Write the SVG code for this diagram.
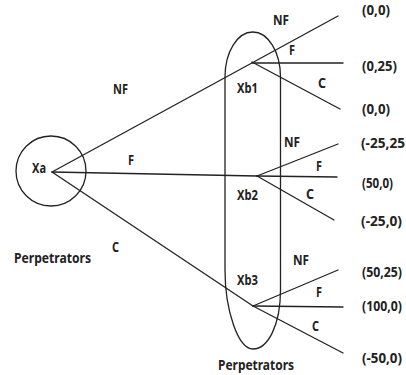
<svg xmlns="http://www.w3.org/2000/svg" width="406" height="375" viewBox="0 0 406 375">
<style>
  .ln{stroke:#222;stroke-width:1.3;fill:none;stroke-linecap:round}
  .t{font-family:'Noto Sans','DejaVu Sans Condensed',sans-serif;font-stretch:condensed;font-weight:bold;font-size:15px;fill:#222}
  .s{font-size:13.6px}
</style>
<rect width="406" height="375" fill="#fff"/>
<g id="connectors">
  <line class="ln" x1="52" y1="172" x2="338" y2="16"/>
  <line class="ln" x1="52" y1="172" x2="257" y2="176"/>
  <line class="ln" x1="52" y1="172" x2="253" y2="306"/>
  <line class="ln" x1="252" y1="63" x2="343" y2="63"/>
  <line class="ln" x1="252" y1="62" x2="340" y2="109"/>
  <line class="ln" x1="257" y1="176" x2="338" y2="144"/>
  <line class="ln" x1="257" y1="176" x2="337" y2="177"/>
  <line class="ln" x1="257" y1="176" x2="334" y2="220"/>
  <line class="ln" x1="253" y1="306" x2="338" y2="270"/>
  <line class="ln" x1="253" y1="306" x2="343" y2="307"/>
  <line class="ln" x1="253" y1="306" x2="343" y2="353"/>
</g>
<g id="edge-labels">
  <text class="t" x="113" y="94" textLength="15" lengthAdjust="spacingAndGlyphs">NF</text>
  <text class="t" x="128" y="165" textLength="6" lengthAdjust="spacingAndGlyphs">F</text>
  <text class="t" x="112" y="252" textLength="7" lengthAdjust="spacingAndGlyphs">C</text>
  <text class="t" x="273" y="25" textLength="16" lengthAdjust="spacingAndGlyphs">NF</text>
  <text class="t" x="289" y="55" textLength="6" lengthAdjust="spacingAndGlyphs">F</text>
  <text class="t" x="318" y="88" textLength="8" lengthAdjust="spacingAndGlyphs">C</text>
  <text class="t" x="284" y="147" textLength="16" lengthAdjust="spacingAndGlyphs">NF</text>
  <text class="t" x="316" y="171" textLength="6" lengthAdjust="spacingAndGlyphs">F</text>
  <text class="t" x="306" y="199" textLength="8" lengthAdjust="spacingAndGlyphs">C</text>
  <text class="t" x="293" y="265" textLength="16" lengthAdjust="spacingAndGlyphs">NF</text>
  <text class="t" x="316" y="297" textLength="6" lengthAdjust="spacingAndGlyphs">F</text>
  <text class="t" x="312" y="331" textLength="7" lengthAdjust="spacingAndGlyphs">C</text>
</g>
<g id="Xa">
  <circle class="ln" cx="51" cy="171" r="35"/>
  <text class="t" x="32" y="173" textLength="14" lengthAdjust="spacingAndGlyphs">Xa</text>
  <text class="t" x="14" y="263" textLength="77" lengthAdjust="spacingAndGlyphs">Perpetrators</text>
</g>
<g id="Xb">
  <path class="ln" d="M225,77 A27.75,45 0 0 1 280.5,77 L280.5,290 C280.5,325 268,349 253,349 C238,349 225,310 225,270 Z"/>
  <text class="t" x="237" y="93" textLength="21" lengthAdjust="spacingAndGlyphs">Xb1</text>
  <text class="t" x="237" y="200" textLength="21" lengthAdjust="spacingAndGlyphs">Xb2</text>
  <text class="t" x="237" y="285" textLength="21" lengthAdjust="spacingAndGlyphs">Xb3</text>
  <text class="t" x="218" y="370" textLength="76" lengthAdjust="spacingAndGlyphs">Perpetrators</text>
</g>
<g id="payoffs">
  <text class="t" x="362" y="15" textLength="28" lengthAdjust="spacingAndGlyphs">(0,0)</text>
  <text class="t" x="362" y="71" textLength="35" lengthAdjust="spacingAndGlyphs">(0,25)</text>
  <text class="t" x="362" y="114" textLength="28" lengthAdjust="spacingAndGlyphs">(0,0)</text>
  <text class="t s" x="361" y="148" textLength="44" lengthAdjust="spacingAndGlyphs">(-25,25</text>
  <text class="t" x="362" y="188" textLength="31" lengthAdjust="spacingAndGlyphs">(50,0)</text>
  <text class="t" x="361" y="226" textLength="41" lengthAdjust="spacingAndGlyphs">(-25,0)</text>
  <text class="t s" x="362" y="277" textLength="40" lengthAdjust="spacingAndGlyphs">(50,25)</text>
  <text class="t s" x="362" y="311" textLength="40" lengthAdjust="spacingAndGlyphs">(100,0)</text>
  <text class="t" x="362" y="363" textLength="40" lengthAdjust="spacingAndGlyphs">(-50,0)</text>
</g>
</svg>
